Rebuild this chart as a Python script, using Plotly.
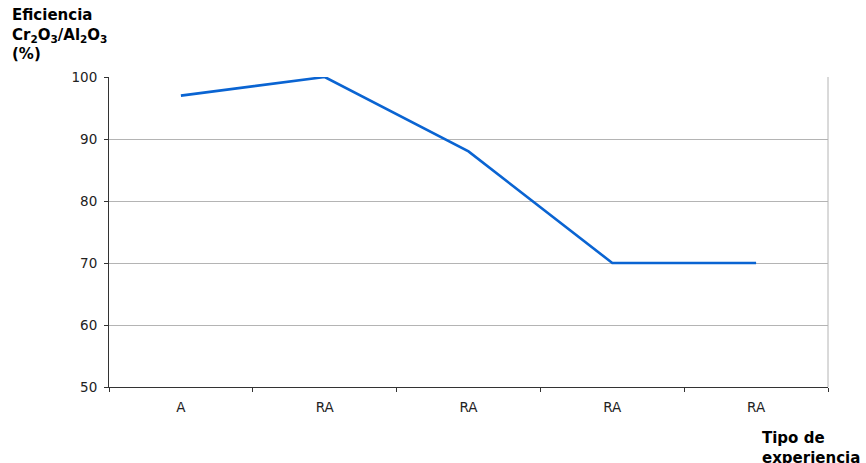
import plotly.graph_objects as go

# Experiment types and Cr2O3/Al2O3 efficiency (%)
categories = ["A", "RA", "RA", "RA", "RA"]
efficiency = [97, 100, 88, 70, 70]
y_ticks = [50, 60, 70, 80, 90, 100]

positions = list(range(1, len(categories) + 1))
boundaries = [p - 0.5 for p in positions] + [positions[-1] + 0.5]

fig = go.Figure()
fig.add_trace(go.Scatter(
    x=positions, y=efficiency, mode="lines",
    line=dict(color="#0a64d2", width=2.6),
    hoverinfo="skip",
))

font = "DejaVu Sans, Verdana, sans-serif"

fig.update_layout(
    width=866, height=463,
    margin=dict(l=109, r=38, t=77, b=76),
    paper_bgcolor="white", plot_bgcolor="white",
    showlegend=False,
    font=dict(family=font, size=13, color="#222"),
    xaxis=dict(
        range=[0.5, len(categories) + 0.5],
        tickvals=positions, ticktext=categories,
        ticks="", showgrid=False, zeroline=False,
        showline=True, linecolor="#333", linewidth=1,
        ticklabelstandoff=8,
        tickfont=dict(size=13.5, color="#222"),
        minor=dict(tickvals=boundaries, ticks="outside", ticklen=4,
                   tickcolor="#333", showgrid=False),
    ),
    yaxis=dict(
        range=[50, 100], tickvals=y_ticks,
        ticks="outside", ticklen=4, tickcolor="#333",
        showgrid=True, gridcolor="#b4b4b4", gridwidth=1,
        zeroline=False, showline=True, linecolor="#333", linewidth=1,
        ticklabelstandoff=4,
        tickfont=dict(size=13.5, color="#222"),
    ),
    shapes=[dict(type="line", xref="paper", yref="paper", x0=1, x1=1, y0=0, y1=1,
                 line=dict(color="#b4b4b4", width=1))],
    annotations=[
        dict(text="<b>Eficiencia<br>Cr<sub>2</sub>O<sub>3</sub>/Al<sub>2</sub>O<sub>3</sub><br>(%)</b>",
             xref="paper", yref="paper", x=-0.137, y=1.235,
             xanchor="left", yanchor="top", align="left", showarrow=False,
             font=dict(size=15, color="#000", family=font)),
        dict(text="<b>Tipo de<br>experiencia</b>",
             xref="paper", yref="paper", x=0.905, y=-0.13,
             xanchor="left", yanchor="top", align="left", showarrow=False,
             font=dict(size=15, color="#000", family=font)),
    ],
)

fig.write_html("out.html")
